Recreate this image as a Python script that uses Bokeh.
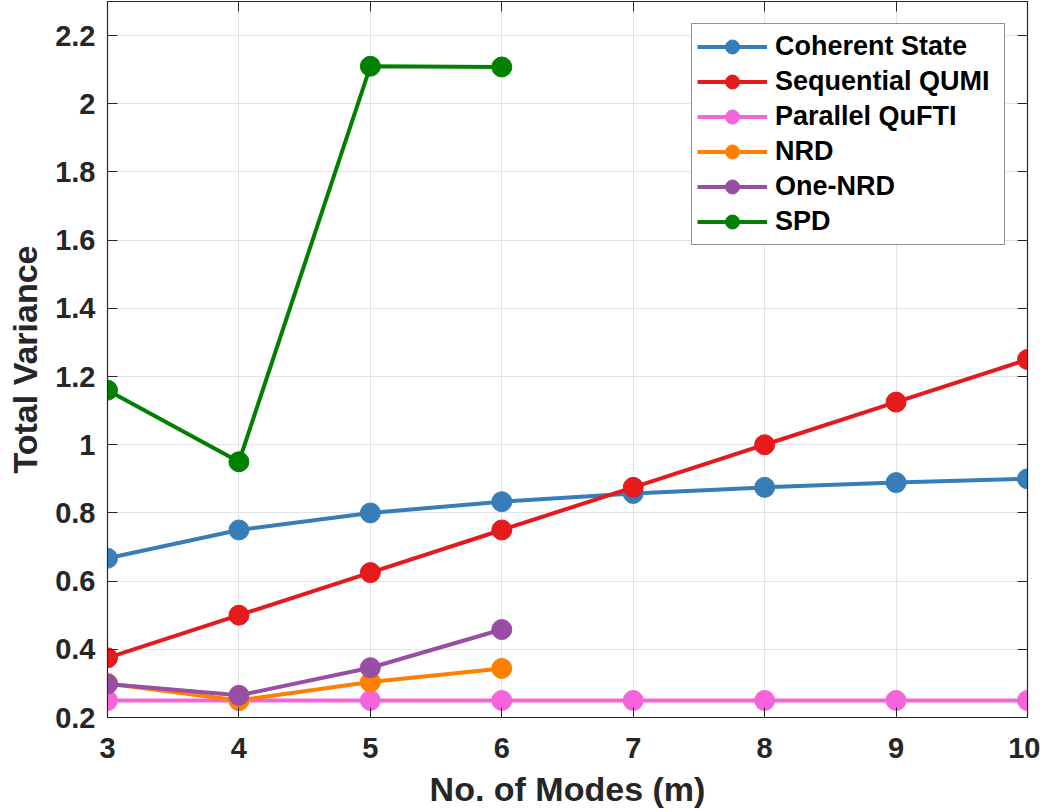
from bokeh.plotting import figure
from bokeh.models import Range1d, FixedTicker, LinearAxis, Legend, LegendItem
from bokeh.embed import file_html
from bokeh.resources import INLINE

modes = [3, 4, 5, 6, 7, 8, 9, 10]
modes_short = [3, 4, 5, 6]
coherent = [0.667, 0.75, 0.80, 0.833, 0.857, 0.875, 0.889, 0.90]
sequential = [0.375, 0.50, 0.625, 0.75, 0.875, 1.00, 1.125, 1.25]
parallel = [0.25, 0.25, 0.25, 0.25, 0.25, 0.25, 0.25, 0.25]
nrd = [0.30, 0.25, 0.304, 0.344]
one_nrd = [0.298, 0.265, 0.346, 0.458]
spd = [1.16, 0.95, 2.11, 2.108]

series = [
    ("Coherent State", modes, coherent, "#377eb8"),
    ("Sequential QUMI", modes, sequential, "#e41a1c"),
    ("Parallel QuFTI", modes, parallel, "#f564d9"),
    ("NRD", modes_short, nrd, "#ff7f00"),
    ("One-NRD", modes_short, one_nrd, "#984ea3"),
    ("SPD", modes_short, spd, "#008000"),
]

x_ticks = [3, 4, 5, 6, 7, 8, 9, 10]
y_ticks = [0.2, 0.4, 0.6, 0.8, 1.0, 1.2, 1.4, 1.6, 1.8, 2.0, 2.2]
y_labels = ["0.2", "0.4", "0.6", "0.8", "1", "1.2", "1.4", "1.6", "1.8", "2", "2.2"]

FONT = "Liberation Sans"
TXT = "#262626"

p = figure(width=1040, height=810, output_backend="svg", toolbar_location=None,
           x_range=Range1d(3, 10), y_range=Range1d(0.2, 2.3),
           min_border_left=107, min_border_right=13, min_border_top=1, min_border_bottom=93)
p.background_fill_color = "white"
p.border_fill_color = "white"
p.outline_line_color = TXT
p.outline_line_width = 1.2

# axes
p.xaxis.ticker = FixedTicker(ticks=x_ticks)
p.yaxis.ticker = FixedTicker(ticks=y_ticks)
p.yaxis.major_label_overrides = {t: l for t, l in zip(y_ticks, y_labels)}
for ax in (p.xaxis[0], p.yaxis[0]):
    ax.major_tick_in = 10
    ax.major_tick_out = 0
    ax.minor_tick_in = 0
    ax.minor_tick_out = 0
    ax.axis_line_color = TXT
    ax.major_tick_line_color = TXT
    ax.major_label_text_font = FONT
    ax.major_label_text_font_style = "bold"
    ax.major_label_text_font_size = "29px"
    ax.major_label_text_color = TXT
    ax.axis_label_text_font = FONT
    ax.axis_label_text_font_style = "bold"
    ax.axis_label_text_font_size = "34px"
    ax.axis_label_text_color = TXT
p.xaxis.axis_label = "No. of Modes (m)"
p.yaxis.axis_label = "Total Variance"
p.xaxis.major_label_standoff = 20
p.yaxis.major_label_standoff = 12
p.xaxis.axis_label_standoff = 9
p.yaxis.axis_label_standoff = 8

# box ticks on top/right (no labels)
top = LinearAxis(ticker=FixedTicker(ticks=x_ticks), major_tick_in=10, major_tick_out=0,
                 minor_tick_in=0, minor_tick_out=0,
                 major_label_overrides={t: "" for t in x_ticks},
                 major_label_text_font_size="1px",
                 major_label_standoff=0, axis_line_color=TXT, major_tick_line_color=TXT)
right = LinearAxis(ticker=FixedTicker(ticks=y_ticks), major_tick_in=10, major_tick_out=0,
                   minor_tick_in=0, minor_tick_out=0,
                   major_label_overrides={t: "" for t in y_ticks},
                   major_label_text_font_size="1px",
                   major_label_standoff=0, axis_line_color=TXT, major_tick_line_color=TXT)
p.add_layout(top, "above")
p.add_layout(right, "right")

p.xgrid.ticker = FixedTicker(ticks=x_ticks)
p.ygrid.ticker = FixedTicker(ticks=y_ticks)
p.grid.grid_line_color = "#e3e3e3"
p.grid.grid_line_width = 1

items = []
for name, xs, ys, col in series:
    r1 = p.line(xs, ys, line_color=col, line_width=4)
    r2 = p.scatter(xs, ys, marker="circle", size=20, fill_color=col, line_color=col)
    items.append(LegendItem(label=name, renderers=[r1, r2]))

legend = Legend(items=items, location="top_right")
legend.label_text_font = FONT
legend.label_text_font_style = "bold"
legend.label_text_font_size = "27px"
legend.label_text_color = "black"
legend.glyph_width = 70
legend.glyph_height = 35
legend.label_height = 35
legend.label_width = 224
legend.spacing = 0
legend.padding = 5
legend.label_standoff = 8
legend.margin = 22
legend.border_line_color = TXT
legend.border_line_width = 1.2
legend.background_fill_alpha = 1
p.add_layout(legend)

open("out.html", "w").write(file_html(p, INLINE))
